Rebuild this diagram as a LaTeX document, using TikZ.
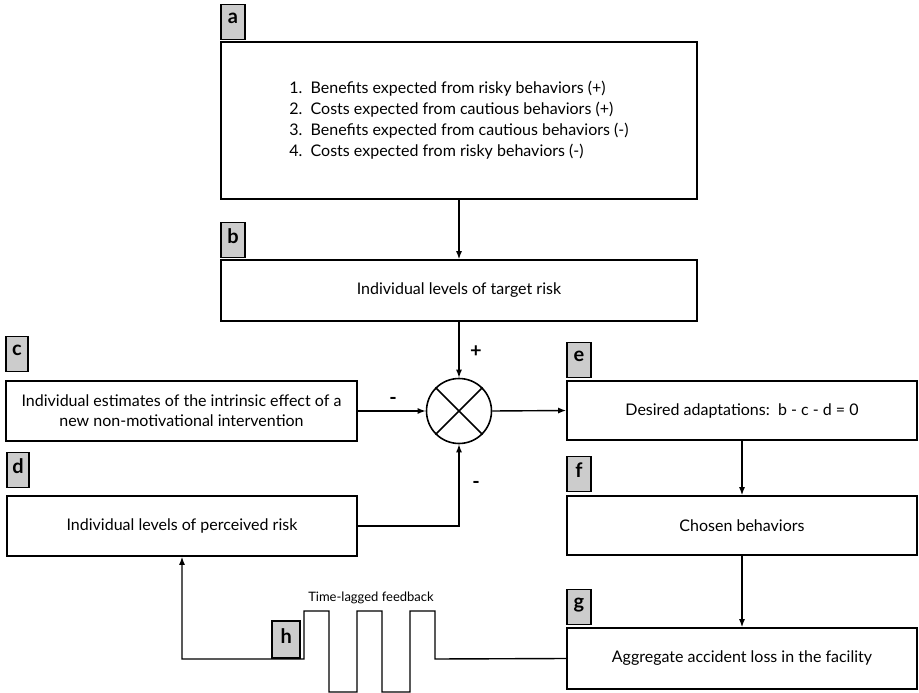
\documentclass[tikz,border=0pt]{standalone}
\usepackage{fontspec}
\setmainfont{Lato}
\usetikzlibrary{arrows.meta,positioning,calc}

\begin{document}
\begin{tikzpicture}[x=1pt, y=-1pt,
    box/.style={rectangle, draw, line width=1.6pt, align=center, font=\fontsize{16}{20}\selectfont},
    tag/.style={rectangle, draw, line width=1.6pt, fill=gray!40, minimum width=24pt, minimum height=35pt,
      inner sep=1pt, font=\fontsize{20}{20}\selectfont\bfseries, text depth=7pt},
    arr/.style={-{Latex[length=8pt, width=6pt]}, line width=1.4pt},
    sign/.style={font=\fontsize{20}{20}\selectfont\bfseries}
  ]
    \useasboundingbox (0,0) rectangle (919,693);

    \node[box, minimum width=476pt, minimum height=157pt, align=left, font=\fontsize{16}{21}\selectfont] (a) at (459,120.5)
      {1.\ \ Benefits expected from risky behaviors (+)\\
       2.\ \ Costs expected from cautious behaviors (+)\\
       3.\ \ Benefits expected from cautious behaviors (-)\\
       4.\ \ Costs expected from risky behaviors (-)};
    \node[box, minimum width=476pt, minimum height=61pt] (b) at (459,290.5) {Individual levels of target risk};
    \node[box, minimum width=351pt, minimum height=60pt] (c) at (181.5,411)
      {Individual estimates of the intrinsic effect of a\\new non-motivational intervention};
    \node[box, minimum width=350pt, minimum height=60pt] (d) at (182,526) {Individual levels of perceived risk};
    \node[box, minimum width=350pt, minimum height=59pt] (e) at (742,410.5) {Desired adaptations:\ \ b - c - d = 0};
    \node[box, minimum width=350pt, minimum height=59pt] (f) at (742,525.5) {Chosen behaviors};
    \node[box, minimum width=350pt, minimum height=61pt] (g) at (742,658.5) {Aggregate accident loss in the facility};

    \node[circle, draw, line width=1.6pt, minimum size=65pt] (sum) at (459,411) {};
    \draw[line width=1.6pt] (sum.45) -- (sum.225) (sum.135) -- (sum.-45);

    % letter tags
    \node[tag, anchor=south west] (ta) at ([yshift=1pt]a.north west) {a};
    \node[tag, anchor=south west] (tb) at ([yshift=1pt]b.north west) {b};
    \node[tag, anchor=south west, minimum width=22pt] (tc) at ([shift={(0,-8)}]c.north west) {c};
    \node[tag, anchor=south west, minimum width=22pt] (td) at ([shift={(0,-7)}]d.north west) {d};
    \node[tag, anchor=south west] (te) at ([shift={(0,-2)}]e.north west) {e};
    \node[tag, anchor=south west] (tf) at ([shift={(0,-3)}]f.north west) {f};
    \node[tag, anchor=south west] (tg) at ([shift={(0,-2)}]g.north west) {g};

    \draw[arr] (a.south) -- (b.north);
    \draw[arr] (b.south) -- (sum.north);
    \draw[arr] (c.east) -- (sum.west);
    \draw[arr] (d.east) -| (sum.south);
    \draw[arr] (sum.east) -- (e.west);
    \draw[arr] (e.south) -- (f.north);
    \draw[arr] (f.south) -- (g.north);

    \node[sign] (plus) at (476,352) {+};
    \node[sign] (minc) at (393,401) {-};
    \node[sign] (mind) at (476,485) {-};

    % time-lagged feedback
    \draw[arr] (g.west) -- (435,659) -- (435,611) -- (410,611) -- (410,692) -- (382,692) -- (382,611)
      -- (357,611) -- (357,692) -- (329,692) -- (329,611) -- (304,611) -- (304,659) -| (d.south);
    \node[tag, anchor=south east, minimum width=28pt, minimum height=37pt] (th) at (301,659) {h};
    \node[font=\fontsize{13}{13}\selectfont] (lag) at (371,598) {Time-lagged feedback};
  \end{tikzpicture}
\end{document}
